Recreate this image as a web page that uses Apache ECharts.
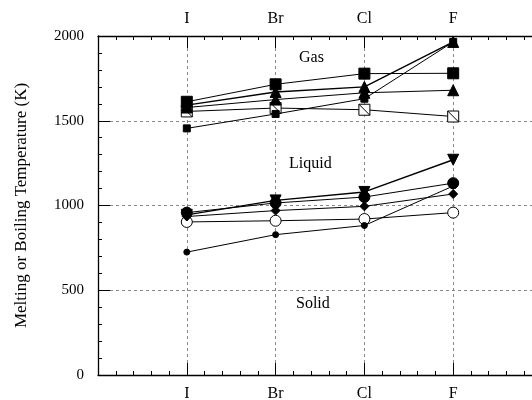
<!DOCTYPE html>
<html>
<head>
<meta charset="utf-8">
<script src="https://cdn.jsdelivr.net/npm/echarts@6/dist/echarts.min.js"></script>
<style>
  html, body { margin: 0; padding: 0; background: #fff; }
  #chart { width: 532px; height: 400px; }
</style>
</head>
<body>
<div id="chart"></div>
<script>
// halogen order along the x axis
const halogens = ['I', 'Br', 'Cl', 'F'];

// boiling points (K)
const liBoil = [1455, 1540, 1630, 1965];
const naBoil = [1592, 1670, 1700, 1965];
const kBoil  = [1612, 1715, 1778, 1780];
const rbBoil = [1578, 1625, 1665, 1680];
const csBoil = [1555, 1575, 1565, 1525];

// melting points (K)
const liMelt = [725, 828, 882, 1115];
const naMelt = [945, 1030, 1080, 1270];
const kMelt  = [958, 1015, 1050, 1132];
const rbMelt = [935, 970, 995, 1068];
const csMelt = [903, 910, 920, 958];

const serif = '"Liberation Serif", "DejaVu Serif", serif';
const slashSquare = 'path://M0,0H10V10H0Z M0,0L10,10';

function pts(arr) {
  return arr.map((v, i) => [i + 1, v]);
}

function line(name, data, symbol, size, opts) {
  return Object.assign({
    name: name,
    type: 'line',
    data: pts(data),
    symbol: symbol,
    symbolSize: size,
    lineStyle: { color: '#000', width: 1 },
    itemStyle: { color: '#000', borderColor: '#000', borderWidth: 1 },
    emphasis: { disabled: true },
    animation: false
  }, opts || {});
}

const xCommon = {
  type: 'value',
  min: 0,
  max: 5,
  interval: 1,
  axisLine: { show: true, lineStyle: { color: '#000', width: 1.3 } },
  axisTick: { show: true, inside: true, length: 12, lineStyle: { color: '#000' } },
  minorTick: { show: true, splitNumber: 5, length: 4, lineStyle: { color: '#000' } },
  axisLabel: {
    fontFamily: serif, fontSize: 16, color: '#000',
    formatter: v => halogens[v - 1] || ''
  }
};

const chart = echarts.init(document.getElementById('chart'));
chart.setOption({
  backgroundColor: '#fff',
  grid: { left: 98, right: -10, top: 36, bottom: 25, outerBoundsMode: 'none', containLabel: false },
  xAxis: [
    Object.assign({}, xCommon, {
      position: 'bottom',
      axisLabel: Object.assign({}, xCommon.axisLabel, { margin: 11 }),
      splitLine: { show: true, lineStyle: { color: '#888', type: [3, 3], width: 1 } }
    }),
    Object.assign({}, xCommon, {
      position: 'top',
      axisLabel: Object.assign({}, xCommon.axisLabel, { margin: 9 }),
      splitLine: { show: false }
    })
  ],
  yAxis: {
    type: 'value',
    min: 0,
    max: 2000,
    interval: 500,
    name: 'Melting or Boiling Temperature (K)',
    nameLocation: 'middle',
    nameGap: 68,
    nameTextStyle: { fontFamily: serif, fontSize: 17, color: '#000' },
    axisLine: { show: true, lineStyle: { color: '#000', width: 1.3 } },
    axisTick: { show: true, inside: true, length: 12, lineStyle: { color: '#000' } },
    minorTick: { show: true, splitNumber: 5, length: 4, lineStyle: { color: '#000' } },
    axisLabel: { fontFamily: serif, fontSize: 15, color: '#000', margin: 14, formatter: v => String(v) },
    splitLine: { show: true, lineStyle: { color: '#888', type: [3, 3], width: 1 } }
  },
  graphic: [
    { type: 'text', left: 299, top: 50, style: { text: 'Gas', font: '16px ' + serif, fill: '#000' } },
    { type: 'text', left: 289, top: 156, style: { text: 'Liquid', font: '16px ' + serif, fill: '#000' } },
    { type: 'text', left: 296, top: 296, style: { text: 'Solid', font: '16px ' + serif, fill: '#000' } }
  ],
  series: [
    // melting
    line('CsMelt', csMelt, 'circle', 11, { itemStyle: { color: '#fff', borderColor: '#000', borderWidth: 1 } }),
    line('LiMelt', liMelt, 'circle', 6),
    line('RbMelt', rbMelt, 'diamond', 9),
    line('KMelt', kMelt, 'circle', 11),
    line('NaMelt', naMelt, 'triangle', 11, { symbolRotate: 180, lineStyle: { color: '#000', width: 1.4 } }),
    // boiling
    line('CsBoil', csBoil, slashSquare, 11, { itemStyle: { color: '#fff', borderColor: '#000', borderWidth: 1 } }),
    line('LiBoil', liBoil, 'rect', 7),
    line('RbBoil', rbBoil, 'triangle', 11),
    line('NaBoil', naBoil, 'triangle', 11, { lineStyle: { color: '#000', width: 1.4 } }),
    line('KBoil', kBoil, 'rect', 11)
  ]
});
</script>
</body>
</html>
